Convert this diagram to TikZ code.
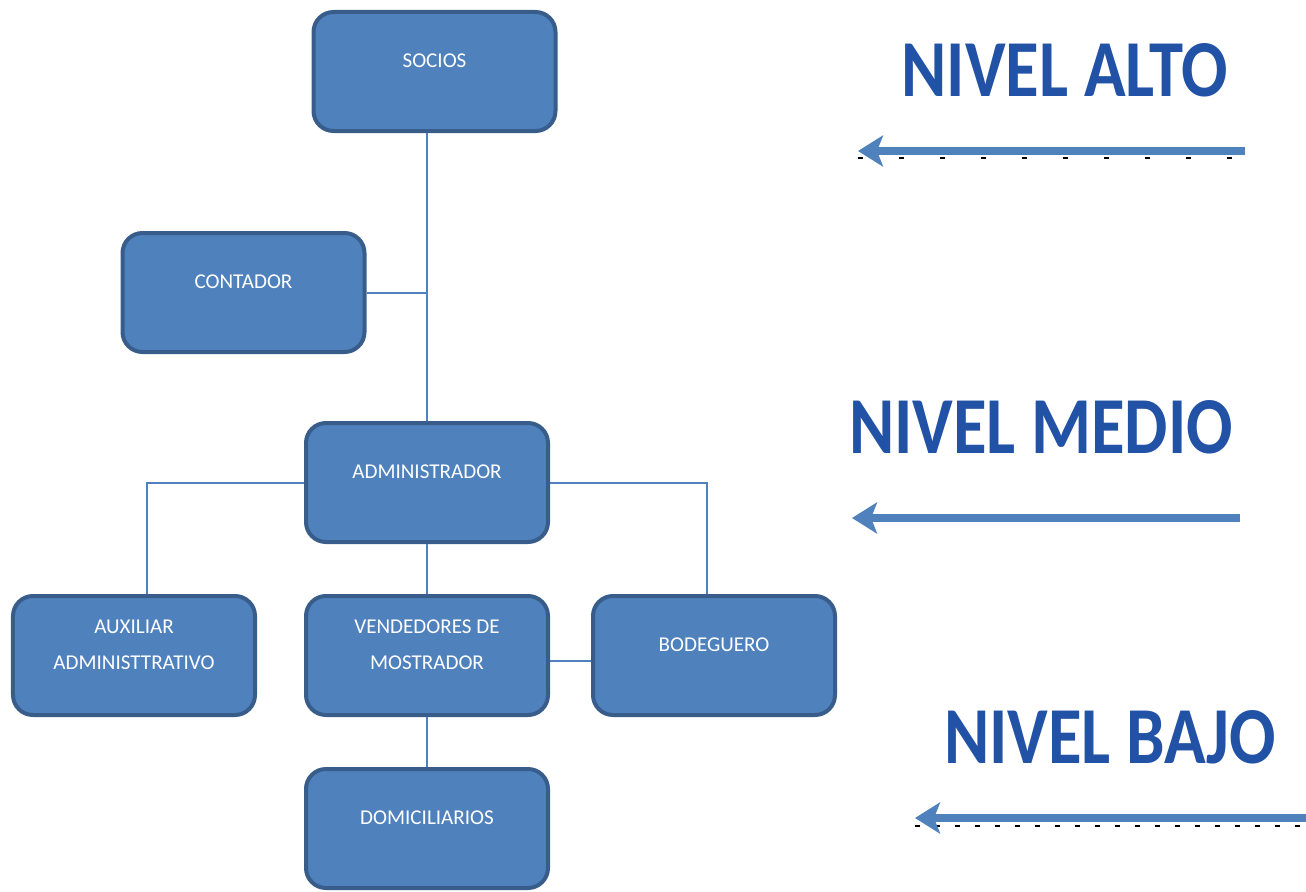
\documentclass[tikz,border=0pt]{standalone}
\usepackage{fontspec}
\setmainfont{Carlito}
\usepackage{xcolor}
\usepackage{graphicx}
\usepackage{tikz}
\usetikzlibrary{shapes, arrows, arrows.meta, positioning, calc}
\definecolor{cajaazul}{RGB}{79,129,189}
\definecolor{bordeazul}{RGB}{56,93,138}
\definecolor{nivelazul}{RGB}{34,82,166}
\tikzstyle{puesto} = [rectangle, draw=bordeazul, line width=0.08cm, fill=cajaazul, rounded corners=0.4cm, minimum width=4.84cm, minimum height=2.38cm, text=white, align=center, font=\fontsize{12}{20}\selectfont, text height=0.3cm, text depth=0.48cm]
\tikzstyle{dos lineas} = [text height=1.02cm]
\tikzstyle{nivel} = [text=nivelazul, font=\fontsize{46}{50}\selectfont\bfseries, inner sep=0pt]
\tikzstyle{linea} = [draw=cajaazul, line width=0.04cm]
\tikzstyle{flecha} = [draw=cajaazul, {Stealth[length=0.5cm, width=0.62cm, inset=0.12cm]}-, line width=0.16cm]
\tikzstyle{puntos} = [draw=black, line width=0.05cm]

\begin{document}
\begin{tikzpicture}[node distance=3.46cm, auto]
    \useasboundingbox (0,0) rectangle (26.12,-17.84);

    \node (socios) [puesto] at (8.69,-1.43) {SOCIOS};
    \node (contador) [puesto] at (4.87,-5.85) {CONTADOR};
    \node (admin) [puesto] at (8.54,-9.65) {ADMINISTRADOR};
    \node (vendedores) [puesto, dos lineas, below of=admin] {VENDEDORES DE\\MOSTRADOR};
    \node (domicilio) [puesto, below of=vendedores] {DOMICILIARIOS};
    \node (auxiliar) [puesto, dos lineas, left of=vendedores, node distance=5.86cm] {AUXILIAR\\ADMINISTTRATIVO};
    \node (bodega) [puesto, right of=vendedores, node distance=5.74cm] {BODEGUERO};

    \draw [linea] (admin.north) -- (admin.north |- socios.south);
    \draw [linea] (contador.east) -- (contador.east -| admin.north);
    \draw [linea] (admin.west) -| ([xshift=0.26cm]auxiliar.north);
    \draw [linea] (admin.east) -| ([xshift=-0.14cm]bodega.north);
    \draw [linea] (admin.south) -- (vendedores.north);
    \draw [linea] ([yshift=-0.1cm]vendedores.east) -- ([yshift=-0.1cm]bodega.west);
    \draw [linea] (vendedores.south) -- (domicilio.north);

    % niveles
    \node (alto) [nivel] at (21.3,-1.4) {\scalebox{0.85}[1]{NIVEL ALTO}};
    \node (medio) [nivel] at (20.82,-8.54) {\scalebox{0.85}[1]{NIVEL MEDIO}};
    \node (bajo) [nivel] at (22.2,-14.74) {\scalebox{0.85}[1]{NIVEL BAJO}};

    \coordinate (altoA) at (24.9,-3.02);
    \coordinate (altoB) at (17.16,-3.02);
    \coordinate (medioA) at (24.8,-10.36);
    \coordinate (medioB) at (17.04,-10.36);
    \coordinate (bajoA) at (26.12,-16.36);
    \coordinate (bajoB) at (18.3,-16.36);

    \draw [puntos, dash pattern=on 0.1cm off 0.72cm] ([yshift=-0.14cm]altoB) -- ([yshift=-0.14cm]altoA);
    \draw [puntos, dash pattern=on 0.1cm off 0.3cm] ([yshift=-0.16cm]bajoB) -- ([yshift=-0.16cm]bajoA);

    \draw [flecha] (altoB) -- (altoA);
    \draw [flecha] (medioB) -- (medioA);
    \draw [flecha] (bajoB) -- (bajoA);
\end{tikzpicture}
\end{document}
